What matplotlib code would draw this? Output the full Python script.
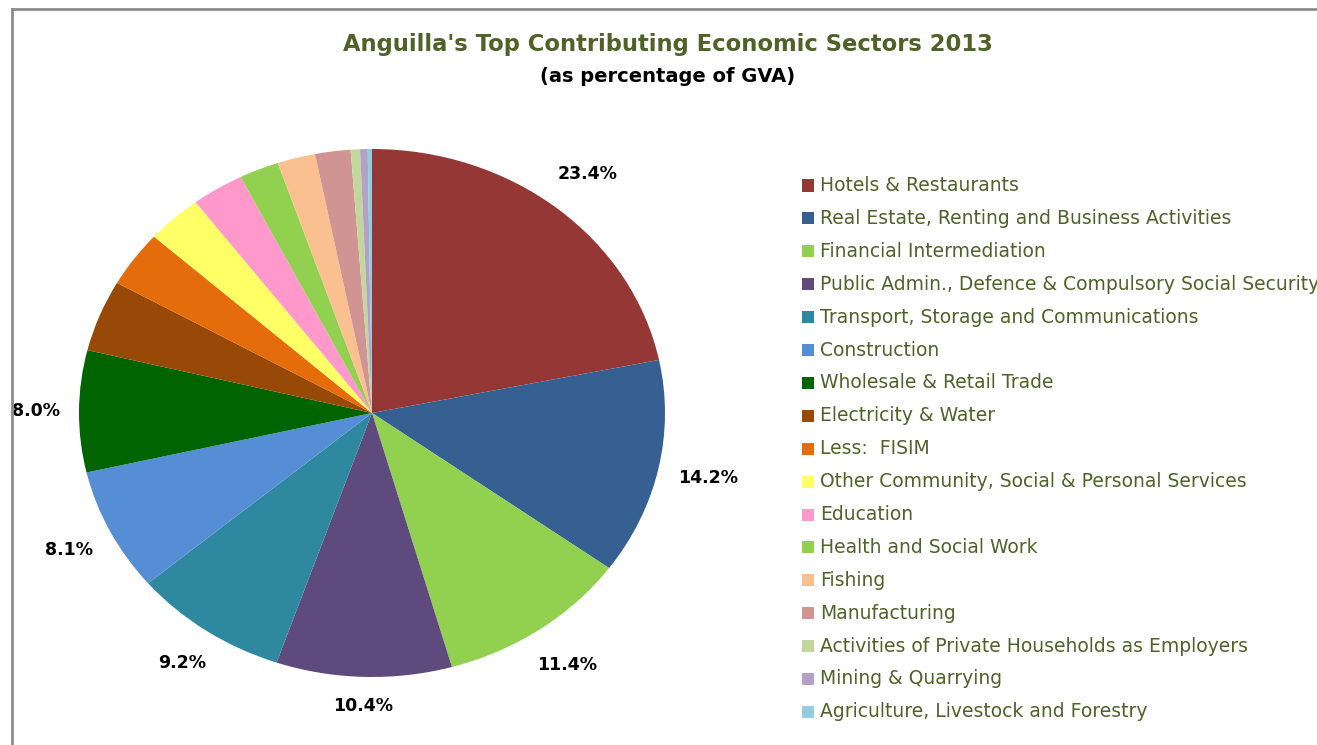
import numpy as np
import matplotlib
matplotlib.use("Agg")
import matplotlib.pyplot as plt
from matplotlib.lines import Line2D

categories = [
    "Hotels & Restaurants",
    "Real Estate, Renting and Business Activities",
    "Financial Intermediation",
    "Public Admin., Defence & Compulsory Social Security",
    "Transport, Storage and Communications",
    "Construction",
    "Wholesale & Retail Trade",
    "Electricity & Water",
    "Less:  FISIM",
    "Other Community, Social & Personal Services",
    "Education",
    "Health and Social Work",
    "Fishing",
    "Manufacturing",
    "Activities of Private Households as Employers",
    "Mining & Quarrying",
    "Agriculture, Livestock and Forestry",
]
values = [23.4, 14.2, 11.4, 10.4, 9.2, 8.1, 8.0, 4.7, 3.7, 3.3, 3.1, 2.35, 2.25, 2.1, 0.55, 0.45, 0.25]
shown_labels = ["23.4%", "14.2%", "11.4%", "10.4%", "9.2%", "8.1%", "8.0%"] + [""] * 10
colors = ["#953735", "#376092", "#92D050", "#5F4A7E", "#2E88A0", "#558ED5", "#006400",
          "#984807", "#E46C0A", "#FFFF66", "#FF99CC", "#92D050", "#FAC090", "#D09493",
          "#C3D69B", "#B3A2C7", "#93CDDD"]

W, H = 1317, 745
FONT = "DejaVu Sans"
fig = plt.figure(figsize=(W / 100, H / 100), dpi=100)
fig.patch.set_facecolor("white")

# border lines (top and left)
fig.add_artist(Line2D([12 / W, 1.0], [1 - 9 / H, 1 - 9 / H], color="#8C8C8C", lw=2))
fig.add_artist(Line2D([12 / W, 12 / W], [0, 1 - 9 / H], color="#8C8C8C", lw=2))

# pie axes (elliptical)
x0, x1, y0, y1 = 79, 665, 149, 677
ax = fig.add_axes([x0 / W, 1 - y1 / H, (x1 - x0) / W, (y1 - y0) / H])
wedges, _ = ax.pie(values, colors=colors, startangle=90, counterclock=False,
                   wedgeprops=dict(linewidth=0))
ax.set_aspect("auto")
ax.set_xlim(-1, 1)
ax.set_ylim(-1, 1)
ax.axis("off")

# outside-end data labels, placed a fixed pixel gap beyond the pie edge
rx, ry = (x1 - x0) / 2, (y1 - y0) / 2
gap = 19
renderer = fig.canvas.get_renderer()
for w, lab in zip(wedges, shown_labels):
    if not lab:
        continue
    mid = np.deg2rad((w.theta1 + w.theta2) / 2)
    ex, ey = np.cos(mid), np.sin(mid)
    t = ax.annotate(lab, xy=(ex, ey), xytext=(0, 0), textcoords="offset pixels",
                    ha="center", va="center", fontsize=12.5, fontweight="bold",
                    family=FONT, color="black")
    bb = t.get_window_extent(renderer)
    hw, hh = bb.width / 2, bb.height / 2
    dx, dy = rx * ex, ry * ey
    n = np.hypot(dx, dy)
    ux, uy = dx / n, dy / n
    off = gap + hw * abs(ux) + hh * abs(uy)
    t.xyann = (ux * off, uy * off)

# titles
fig.text(668 / W, 1 - 45 / H, "Anguilla's Top Contributing Economic Sectors 2013",
         ha="center", va="center", fontsize=16.3, fontweight="bold",
         family=FONT, color="#4F6228")
fig.text(668 / W, 1 - 76 / H, "(as percentage of GVA)", ha="center", va="center",
         fontsize=14, fontweight="bold", family=FONT, color="black")

# legend
top_y, step = 185.5, 32.9
for i, (name, c) in enumerate(zip(categories, colors)):
    y = top_y + i * step
    fig.patches.append(plt.Rectangle((802 / W, 1 - (y + 6) / H), 12 / W, 12 / H,
                                     transform=fig.transFigure, facecolor=c,
                                     edgecolor="none"))
    fig.text(820 / W, 1 - y / H, name, ha="left", va="center", fontsize=13.5,
             family=FONT, color="#4F6228")

fig.savefig("out.png", dpi=100, facecolor="white")
